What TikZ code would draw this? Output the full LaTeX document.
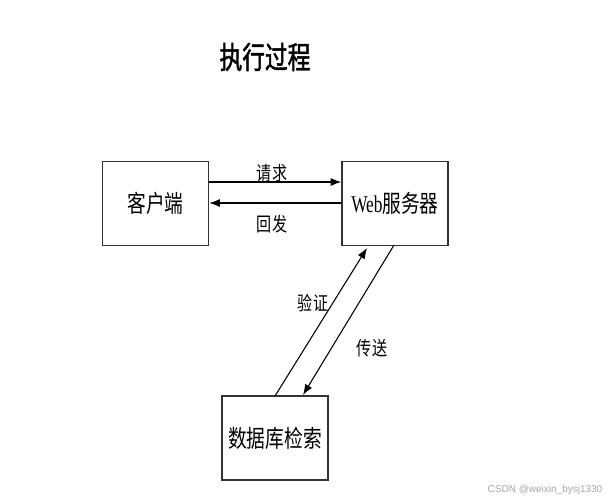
\documentclass[tikz,border=0pt]{standalone}
\usepackage{fontspec}
\newfontfamily\cjk[FakeStretch=0.78]{Noto Sans CJK SC}
\newfontfamily\cjkb[FakeStretch=0.74,FakeBold=1.5]{Noto Sans CJK SC}
\newfontfamily\narrowlat[FakeStretch=0.72]{Liberation Serif}
\usetikzlibrary{arrows.meta}
\begin{document}
\begin{tikzpicture}[x=0.75pt,y=-0.75pt,
  box/.style={draw=black!80,line width=1.1pt,minimum width=79.5pt,minimum height=63pt,inner sep=0pt,font=\cjk\fontsize{18}{18}\selectfont},
  lbl/.style={inner sep=0pt,font=\cjk\fontsize{14.5}{14.5}\selectfont},
  conn/.style={line width=0.8pt,-{Latex[length=8pt,width=6pt]}}]
\useasboundingbox (0,0) rectangle (616,501);
\node[inner sep=0pt,font=\cjkb\fontsize{23}{23}\selectfont] (title) at (265,57) {执行过程};
\node[box] (client) at (155.5,203.5) {客户端};
\node[box] (web) at (395,203.5) {{\narrowlat Web}服务器};
\node[box] (db) at (275,438) {数据库检索};
\coordinate (c1) at (client.east |- 0,182);
\coordinate (w1) at (web.west |- 0,182);
\coordinate (c2) at (client.east |- 0,203);
\coordinate (w2) at (web.west |- 0,203);
\draw[conn] (c1) -- (w1);
\draw[conn] (w2) -- (c2);
\coordinate (d1) at (275,396);
\coordinate (wa) at (367,248);
\coordinate (wb) at (394,245);
\coordinate (d2) at (303,395);
\draw[conn] (d1) -- (wa);
\draw[conn] (wb) -- (d2);
\node[lbl] (req) at (272,173) {请求};
\node[lbl] (resp) at (272,224) {回发};
\node[lbl] (ver) at (313,303) {验证};
\node[lbl] (send) at (372,348) {传送};
\node[inner sep=0pt,text=black!35,font=\fontspec{Liberation Sans}\fontsize{7.5}{7.5}\selectfont] (wm) at (545,490) {CSDN @weixin\_bysj1330};
\end{tikzpicture}
\end{document}
